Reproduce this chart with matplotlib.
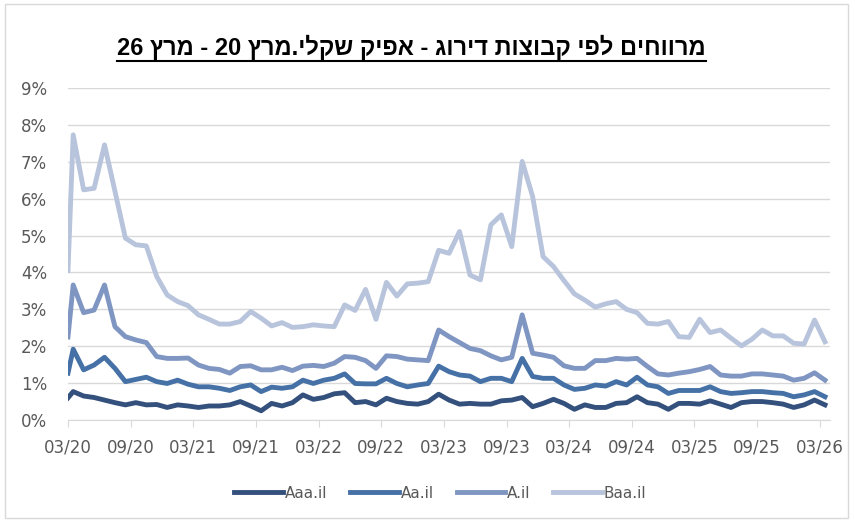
import re
import numpy as np
import matplotlib
matplotlib.use("Agg")
import matplotlib.pyplot as plt
from matplotlib.lines import Line2D
from matplotlib.patches import Rectangle

# titre (ordre logique) + conversion en ordre visuel pour matplotlib (pas de bidi)
titre = "מרווחים לפי קבוצות דירוג - אפיק שקלי.מרץ 20 - מרץ 26"

def visuel(s):
    s = s[::-1]
    return re.sub(r"\d+", lambda m: m.group()[::-1], s)

mois = [f"{m:02d}/{a:02d}" for a in range(20, 27) for m in range(1, 13)]
mois = mois[2:2 + 73]  # 03/20 .. 03/26

series = ["Aaa.il", "Aa.il", "A.il", "Baa.il"]
couleurs = ["#34507d", "#4671a6", "#8096c2", "#b8c4dc"]

# valeur de depart (debut 03/20) puis une valeur par mois
aaa = [0.60,
       0.77, 0.65, 0.61, 0.54, 0.47, 0.41, 0.47, 0.41, 0.42, 0.34, 0.41, 0.38,
       0.34, 0.38, 0.38, 0.41, 0.50, 0.38, 0.25, 0.45, 0.38, 0.47, 0.68, 0.56,
       0.61, 0.71, 0.74, 0.47, 0.50, 0.41, 0.59, 0.50, 0.45, 0.43, 0.50, 0.70,
       0.54, 0.43, 0.45, 0.43, 0.43, 0.52, 0.54, 0.61, 0.36, 0.45, 0.56, 0.45,
       0.29, 0.41, 0.34, 0.34, 0.45, 0.47, 0.63, 0.47, 0.43, 0.29, 0.45, 0.45,
       0.43, 0.52, 0.43, 0.34, 0.47, 0.50, 0.50, 0.47, 0.43, 0.34, 0.41, 0.54,
       0.41]
aa = [1.27,
      1.92, 1.36, 1.49, 1.70, 1.40, 1.04, 1.10, 1.16, 1.04, 0.99, 1.08, 0.97,
      0.90, 0.90, 0.86, 0.80, 0.90, 0.95, 0.77, 0.89, 0.86, 0.90, 1.08, 0.99,
      1.08, 1.13, 1.25, 0.99, 0.98, 0.98, 1.13, 0.99, 0.90, 0.95, 0.99, 1.46,
      1.31, 1.22, 1.19, 1.04, 1.13, 1.13, 1.04, 1.67, 1.18, 1.13, 1.13, 0.95,
      0.83, 0.86, 0.95, 0.92, 1.04, 0.95, 1.16, 0.95, 0.90, 0.72, 0.80, 0.80,
      0.80, 0.90, 0.77, 0.72, 0.74, 0.77, 0.77, 0.74, 0.72, 0.63, 0.68, 0.77,
      0.63]
a = [2.25,
     3.66, 2.91, 2.98, 3.66, 2.53, 2.26, 2.17, 2.10, 1.72, 1.67, 1.67, 1.68,
     1.49, 1.40, 1.37, 1.27, 1.45, 1.47, 1.36, 1.36, 1.43, 1.34, 1.46, 1.48,
     1.45, 1.54, 1.72, 1.70, 1.61, 1.40, 1.74, 1.72, 1.65, 1.63, 1.61, 2.44,
     2.26, 2.10, 1.94, 1.88, 1.74, 1.63, 1.70, 2.85, 1.81, 1.76, 1.70, 1.47,
     1.40, 1.40, 1.61, 1.61, 1.67, 1.65, 1.67, 1.45, 1.25, 1.22, 1.27, 1.31,
     1.37, 1.45, 1.22, 1.19, 1.19, 1.25, 1.25, 1.22, 1.19, 1.08, 1.13, 1.28,
     1.08]
baa = [4.05,
       7.73, 6.24, 6.28, 7.46, 6.20, 4.93, 4.75, 4.72, 3.89, 3.39, 3.21, 3.10,
       2.85, 2.73, 2.60, 2.60, 2.67, 2.94, 2.76, 2.55, 2.64, 2.51, 2.53, 2.58,
       2.55, 2.53, 3.12, 2.97, 3.54, 2.73, 3.73, 3.36, 3.69, 3.71, 3.75, 4.60,
       4.52, 5.11, 3.93, 3.80, 5.29, 5.56, 4.70, 7.01, 6.06, 4.43, 4.16, 3.78,
       3.42, 3.25, 3.06, 3.15, 3.21, 3.00, 2.91, 2.62, 2.60, 2.67, 2.26, 2.24,
       2.73, 2.37, 2.44, 2.22, 2.01, 2.19, 2.44, 2.28, 2.28, 2.08, 2.06, 2.71,
       2.12]

gris = "#595959"
plt.rcParams["font.family"] = ["DejaVu Sans"]

fig = plt.figure(figsize=(8.55, 5.22), dpi=100)
ax = fig.add_axes([0.0795, 0.1954, 0.8915, 0.636])

x = np.concatenate([[0], np.arange(len(mois)) + 0.5])
for nom, vals, c in zip(series, [aaa, aa, a, baa], couleurs):
    ax.plot(x, vals, color=c, lw=3.5, solid_joinstyle="round", label=nom)

ax.set_xlim(0, len(mois))
ax.set_ylim(0, 9)
ax.set_yticks(range(0, 10))
ax.set_yticklabels([f"{v}%" for v in range(0, 10)])
ax.set_xticks(range(0, len(mois), 6))
ax.set_xticklabels(mois[::6])

ax.grid(axis="y", color="#d9d9d9", lw=1)
ax.set_axisbelow(True)
for s in ["top", "right", "left"]:
    ax.spines[s].set_visible(False)
ax.spines["bottom"].set_color("#d9d9d9")
ax.tick_params(axis="y", length=0, pad=15, labelsize=12, labelcolor=gris)
ax.tick_params(axis="x", length=5, color="#d9d9d9", pad=8, labelsize=12, labelcolor=gris)

leg = fig.legend(loc="center", bbox_to_anchor=(0.515, 1 - 493 / 522), ncol=4,
                 frameon=False, fontsize=11, handlelength=3.2, handletextpad=0.1,
                 columnspacing=1.5)
for t in leg.get_texts():
    t.set_color(gris)

t = fig.text(0.481, 1 - 47 / 522, visuel(titre), ha="center", va="center",
             fontsize=17, fontweight="bold", family=["Liberation Sans", "DejaVu Sans"])

# soulignement du titre
fig.canvas.draw()
bb = t.get_window_extent()
W, H = fig.get_size_inches() * fig.dpi
yl = (bb.y0 - 1) / H
fig.add_artist(Line2D([bb.x0 / W, bb.x1 / W], [yl, yl], color="black", lw=1.5))

fig.patches.append(Rectangle((0.006, 0.008), 0.986, 0.984, transform=fig.transFigure,
                             fill=False, ec="#d9d9d9", lw=1))

fig.savefig("out.png", dpi=100)
